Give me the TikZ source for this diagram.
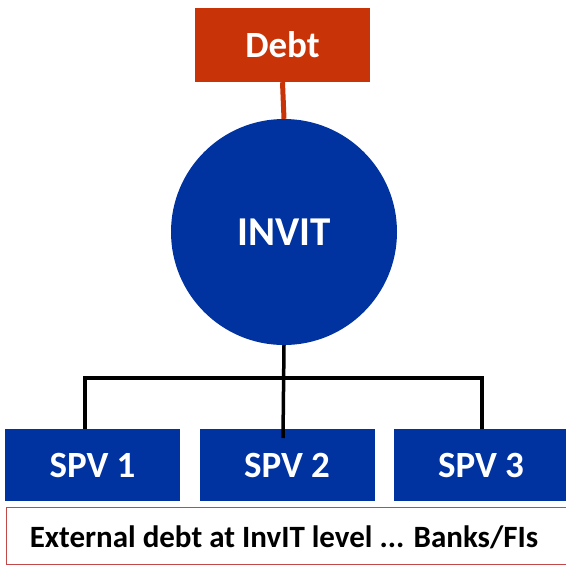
\documentclass[tikz,border=0pt]{standalone}
\usepackage{fontspec}
\setmainfont{Carlito}
\usetikzlibrary{calc}
\definecolor{invblue}{RGB}{0,51,160}
\definecolor{debtred}{RGB}{200,52,8}
\definecolor{boxred}{RGB}{196,72,72}
\begin{document}
\begin{tikzpicture}[x=1pt,y=-1pt,
  bluebox/.style={fill=invblue,draw=none,text=white,font=\bfseries\fontsize{37}{40}\selectfont,minimum width=175pt,minimum height=72pt,inner sep=0pt},
  conn/.style={line width=3.5pt,draw=black}]
\useasboundingbox (0,0) rectangle (566,566);
\fill[white] (0,0) rectangle (566,566);
\node[fill=debtred,text=white,font=\bfseries\fontsize{37}{40}\selectfont,minimum width=175pt,minimum height=74pt,inner sep=0pt] (debt) at (282.5,45) {Debt};
\node[circle,fill=invblue,text=white,font=\bfseries\fontsize{41}{44}\selectfont,minimum size=226pt,inner sep=0pt] (invit) at (284,232) {INVIT};
\node[bluebox] (spv1) at (92.5,465) {SPV 1};
\node[bluebox] (spv2) at (287,465) {SPV 2};
\node[bluebox] (spv3) at (481,465) {SPV 3};
\node[draw=boxred,line width=1.2pt,fill=white,minimum width=572pt,minimum height=57pt,inner sep=0pt,anchor=west] (ext) at (6,536) {};
\node[font=\bfseries\fontsize{31}{34}\selectfont,inner sep=0pt] (exttext) at (284,537) {External debt at InvIT level ... Banks/FIs};
\draw[line width=5pt,draw=debtred] (debt.south) -- (invit.north);
\coordinate (hl) at (85,378);
\coordinate (hr) at (482,378);
\coordinate (mid) at (283,438);
\draw[conn] (invit.south) -- (mid);
\draw[conn] (spv1.north -| hl) -- (hl) -- (hr) -- (spv3.north -| hr);
\end{tikzpicture}
\end{document}
